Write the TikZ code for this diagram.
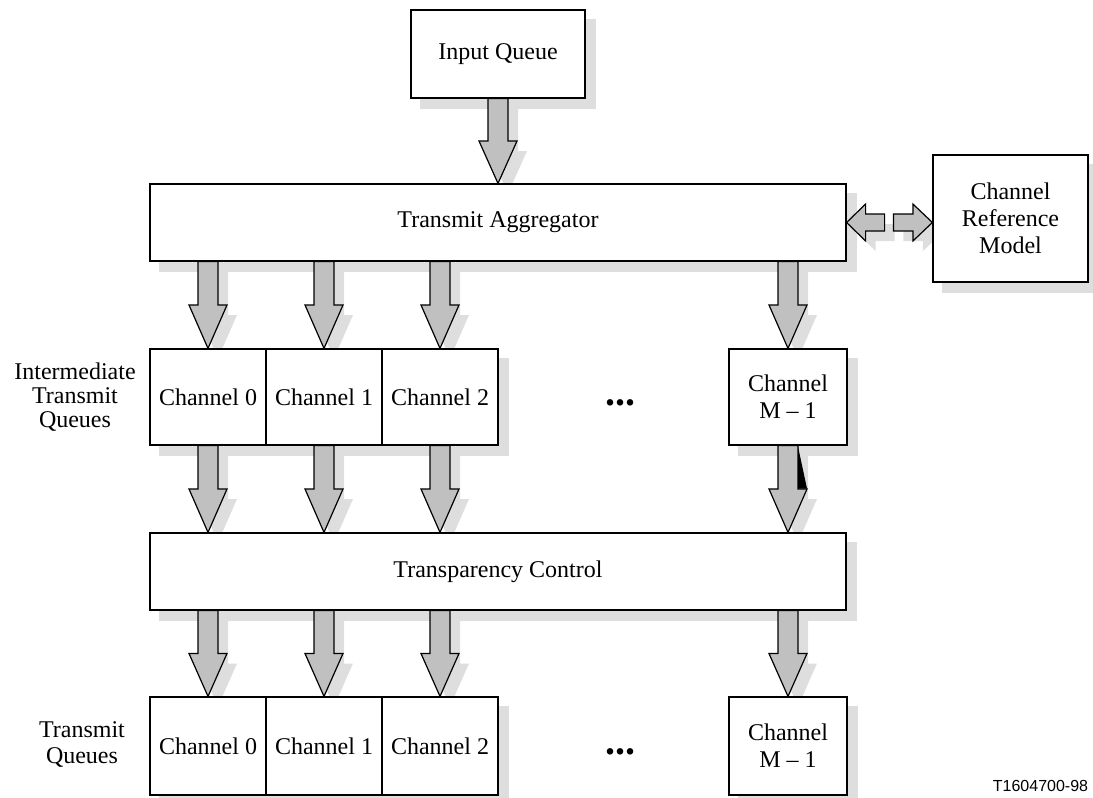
\documentclass[tikz,border=0pt]{standalone}
\usepackage{fontspec}
\setmainfont{Liberation Serif}
\newfontfamily\figsans{Liberation Sans}
\usepackage{tikz}
\usetikzlibrary{calc,backgrounds}
\definecolor{shadowgray}{RGB}{222,222,222}
\definecolor{arrowgray}{RGB}{192,192,192}
% outline of a block arrow from (fa-s) to (fa-e): half shaft, half head, offset
\newcommand{\fatoutline}[3]{%
  ($(fa-s)!#1!90:(fa-e)+#3$) -- ($(fa-s)!.5!(fa-e)!#1!90:(fa-e)+#3$)
  -- ($(fa-s)!.5!(fa-e)!#2!90:(fa-e)+#3$) -- ($(fa-e)+#3$)
  -- ($(fa-s)!.5!(fa-e)!#2!-90:(fa-e)+#3$) -- ($(fa-s)!.5!(fa-e)!#1!-90:(fa-e)+#3$)
  -- ($(fa-s)!#1!-90:(fa-e)+#3$) -- cycle}
\newcommand{\fatarrow}[4]{%
  \coordinate (fa-s) at (#1);
  \coordinate (fa-e) at (#2);
  \fill[shade] \fatoutline{#3}{#4}{(10,10)};
  \filldraw[fat] \fatoutline{#3}{#4}{(0,0)};
}

\begin{document}
\begin{tikzpicture}[
  x=0.5pt, y=-0.5pt,
  box/.style={rectangle, draw, line width=0.6pt, fill=white, inner sep=1pt,
              align=center, font=\fontsize{12}{13.5}\selectfont},
  cell/.style={box, minimum width=58pt, minimum height=48pt},
  wide/.style={box, minimum width=348pt, minimum height=38.5pt},
  tag/.style={align=center, font=\fontsize{12}{12}\selectfont},
  dots/.style={inner sep=0pt, font=\fontsize{20}{20}\selectfont\bfseries},
  shade/.style={fill=shadowgray},
  fat/.style={draw, line width=0.6pt, fill=arrowgray, line join=miter},
]
  \useasboundingbox (0,0) rectangle (1093,798);

  % Input side
  \node[box, minimum width=87pt, minimum height=44pt] (inq) at (498,54) {Input Queue};
  \node[wide] (agg) at (498,222.5) {Transmit Aggregator};
  \node[box, minimum width=77.5pt, minimum height=63.5pt] (crm) at (1010.5,218.5)
    {Channel\\Reference\\Model};

  % Intermediate transmit queues
  \node[cell] (a0) at (208,397) {Channel 0};
  \node[cell] (a1) at (324,397) {Channel 1};
  \node[cell] (a2) at (440,397) {Channel 2};
  \node[cell, minimum width=59pt] (am) at (788,397) {Channel\\M -- 1};
  \node[dots] (adots) at (620,403) {...};
  \node[tag] (itq) at (75,397) {Intermediate\\Transmit\\Queues};

  % Transparency and transmit queues
  \node[wide] (tc) at (498,571.5) {Transparency Control};
  \node[cell, minimum height=49pt] (b0) at (208,746) {Channel 0};
  \node[cell, minimum height=49pt] (b1) at (324,746) {Channel 1};
  \node[cell, minimum height=49pt] (b2) at (440,746) {Channel 2};
  \node[cell, minimum width=59pt, minimum height=49pt] (bm) at (788,746) {Channel\\M -- 1};
  \node[dots] (bdots) at (620,752) {...};
  \node[tag, font=\fontsize{12}{13}\selectfont] (tq) at (82,744) {Transmit\\Queues};
  \node[font=\fontsize{8}{8}\selectfont\figsans] (fig) at (1040.5,786) {T1604700-98};

  \coordinate (lft) at ($(agg.east)+(38,0)$);
  \coordinate (rgt) at ($(crm.west |- agg.east)+(-39,0)$);

  \begin{scope}[on background layer]
    % Shadows
    \foreach \n in {inq,agg,crm,a0,a1,a2,am,tc,b0,b1,b2,bm}
      \fill[shade] ($(\n.south west)+(10,10)$) rectangle ($(\n.north east)+(10,10)$);
    % Arrows
    \fatarrow{inq.south}{agg.north}{5pt}{9.5pt}
    \fatarrow{lft}{agg.east}{4.25pt}{9.25pt}
    \fatarrow{rgt}{crm.west |- agg.east}{4.25pt}{9.25pt}
    \foreach \c/\d in {a0/b0,a1/b1,a2/b2,am/bm} {
      \fatarrow{\c |- agg.south}{\c.north}{5pt}{9.5pt}
      \fatarrow{\c.south}{\c |- tc.north}{5pt}{9.5pt}
      \fatarrow{\d |- tc.south}{\d.north}{5pt}{9.5pt}
    }
    \fill ($(am.south)+(10,1)$) -- ($(am.south)+(19,43)$) -- ($(am.south)+(10,43)$) -- cycle;
  \end{scope}
\end{tikzpicture}
\end{document}
